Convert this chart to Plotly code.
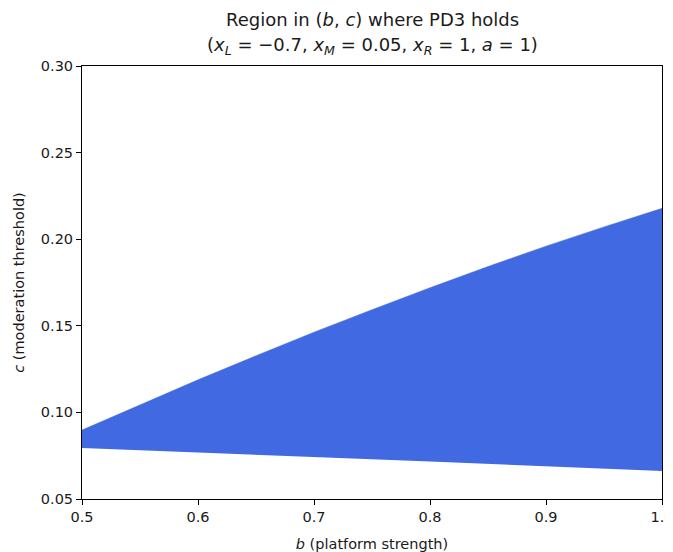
import plotly.graph_objects as go

# Region boundaries
b_vals = [0.50, 0.55, 0.60, 0.65, 0.70, 0.75, 0.80, 0.85, 0.90, 0.95, 1.00]
c_upper = [0.0898, 0.1045, 0.1188, 0.1327, 0.1463, 0.1593, 0.1720, 0.1842, 0.1960, 0.2071, 0.2178]
c_lower = [0.0795, 0.0781, 0.0768, 0.0756, 0.0743, 0.0729, 0.0716, 0.0702, 0.0689, 0.0675, 0.0662]

x_ticks = [0.5, 0.6, 0.7, 0.8, 0.9, 1.0]
x_ticklabels = ["0.5", "0.6", "0.7", "0.8", "0.9", "1.0"]
y_ticks = [0.05, 0.10, 0.15, 0.20, 0.25, 0.30]
y_ticklabels = ["0.05", "0.10", "0.15", "0.20", "0.25", "0.30"]

FILL = "#4169E1"
FONT = "DejaVu Sans"
TXT = "#1a1a1a"

fig = go.Figure()
fig.add_trace(go.Scatter(x=b_vals, y=c_lower, mode="lines",
                         line=dict(width=0, color=FILL), showlegend=False,
                         hoverinfo="skip"))
fig.add_trace(go.Scatter(x=b_vals, y=c_upper, mode="lines", fill="tonexty",
                         fillcolor=FILL, line=dict(width=0.5, color=FILL),
                         showlegend=False))

axis_common = dict(showline=True, linecolor="black", linewidth=1, mirror=True,
                   ticks="outside", ticklen=5, tickwidth=1, tickcolor="black",
                   showgrid=False, zeroline=False, ticklabeloverflow="allow",
                   tickfont=dict(family=FONT, size=14.5, color=TXT))

fig.update_xaxes(range=[0.5, 1.0], tickvals=x_ticks, ticktext=x_ticklabels,
                 title=dict(text="<i>b</i> (platform strength)",
                            font=dict(family=FONT, size=14.5, color=TXT),
                            standoff=16),
                 **axis_common)
fig.update_yaxes(range=[0.05, 0.30], tickvals=y_ticks, ticktext=y_ticklabels,
                 title=dict(text="<i>c</i> (moderation threshold)",
                            font=dict(family=FONT, size=14.5, color=TXT),
                            standoff=12),
                 **axis_common)

fig.add_annotation(text="Region in (<i>b</i>, <i>c</i>) where PD3 holds",
                   xref="paper", yref="paper", x=0.5, y=1, yshift=47,
                   showarrow=False, yanchor="middle",
                   font=dict(family=FONT, size=18, color=TXT))
fig.add_annotation(text="(<i>x</i><sub><i>L</i></sub> = −0.7, <i>x</i><sub><i>M</i></sub> = 0.05, "
                        "<i>x</i><sub><i>R</i></sub> = 1, <i>a</i> = 1)",
                   xref="paper", yref="paper", x=0.5, y=1, yshift=20,
                   showarrow=False, yanchor="middle",
                   font=dict(family=FONT, size=18, color=TXT))

# page body adds an 8px margin, so the figure is sized/placed to compensate
fig.update_layout(width=665, height=544,
                  margin=dict(l=74, r=11, t=58, b=53, autoexpand=False),
                  plot_bgcolor="white", paper_bgcolor="white",
                  font=dict(family=FONT))

fig.write_html("out.html")
